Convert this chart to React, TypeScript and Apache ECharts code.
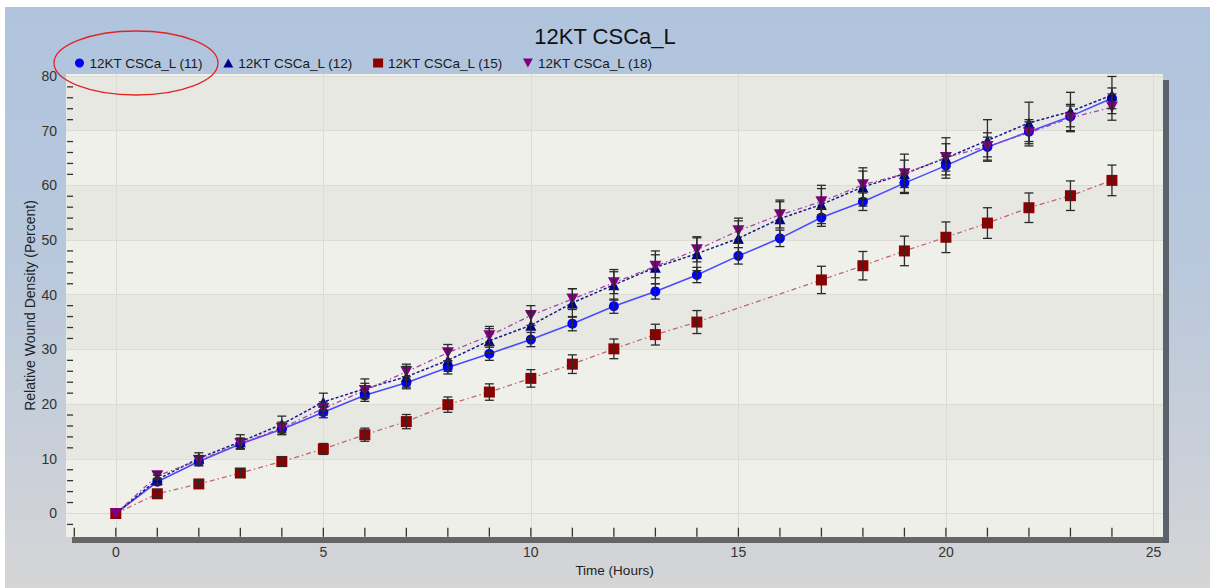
import React, { useEffect, useRef } from "react";
import * as echarts from "echarts";

const hours = [0, 1, 2, 3, 4, 5, 6, 7, 8, 9, 10, 11, 12, 13, 14, 15, 16, 17, 18, 19, 20, 21, 22, 23, 24];

const names = ["12KT CSCa_L (11)", "12KT CSCa_L (12)", "12KT CSCa_L (15)", "12KT CSCa_L (18)"];

const s11 = [0, 5.8, 9.5, 12.7, 15.4, 18.5, 21.6, 23.9, 26.7, 29.2, 31.8, 34.7, 37.9, 40.6, 43.6, 47.1, 50.3, 54.1, 57.0, 60.4, 63.6, 67.0, 69.8, 72.6, 75.9];
const s12 = [0, 6.2, 10.1, 13.1, 16.3, 20.4, 22.8, 25.0, 28.0, 31.6, 34.4, 38.5, 41.8, 45.0, 47.5, 50.3, 53.9, 56.5, 59.7, 62.1, 65.0, 68.2, 71.4, 73.5, 76.5];
const s15 = [0, 3.6, 5.4, 7.4, 9.5, 11.8, 14.4, 16.8, 19.9, 22.2, 24.7, 27.3, 30.1, 32.7, 35.0, null, null, 42.7, 45.3, 48.0, 50.5, 53.1, 55.9, 58.1, 60.9];
const s18 = [0, 6.9, 9.7, 12.8, 15.6, 19.2, 22.5, 25.9, 29.4, 32.5, 36.2, 39.2, 42.2, 45.2, 48.2, 51.7, 54.6, 57.0, 60.1, 62.1, 65.1, 67.1, 69.6, 72.3, 74.3];

const e11 = [0, 0.6, 0.8, 0.9, 1.0, 1.0, 1.1, 1.1, 1.2, 1.2, 1.3, 1.3, 1.3, 1.4, 1.4, 1.5, 1.5, 1.6, 1.6, 1.7, 1.7, 1.8, 1.8, 1.9, 1.9];
const e12 = [0, 0.8, 1.0, 1.3, 1.5, 1.6, 1.8, 1.9, 2.0, 2.2, 2.4, 2.6, 2.8, 3.0, 3.1, 3.2, 3.4, 3.5, 3.5, 3.6, 3.7, 3.8, 3.8, 3.5, 3.4];
const e15 = [0, 0.5, 0.6, 0.8, 0.9, 1.0, 1.2, 1.3, 1.4, 1.5, 1.6, 1.7, 1.8, 1.9, 2.1, null, null, 2.5, 2.6, 2.7, 2.8, 2.8, 2.7, 2.7, 2.8];
const e18 = [0, 0.7, 0.9, 1.0, 1.1, 1.2, 1.3, 1.4, 1.5, 1.7, 1.8, 1.9, 2.0, 2.1, 2.2, 2.3, 2.4, 2.4, 2.5, 2.5, 2.5, 2.5, 2.4, 2.5, 2.4];

const xLabels = [0, 5, 10, 15, 20, 25];
const xTicks = [-1, 0, 1, 2, 3, 4, 5, 6, 7, 8, 9, 10, 11, 12, 13, 14, 15, 16, 17, 18, 19, 20, 21, 22, 23, 24];
const yLabels = [0, 10, 20, 30, 40, 50, 60, 70, 80];
const yTicks = [-2, 2, 4, 6, 8, 12, 14, 16, 18, 22, 24, 26, 28, 32, 34, 36, 38, 42, 44, 46, 48, 52, 54, 56, 58, 62, 64, 66, 68, 72, 74, 76, 78];

const FONT = "'Liberation Sans', Arial, sans-serif";
const DOWN_TRI = "path://M0,0 L10,0 L5,9 Z";
const X_MIN = -1.2;
const X_MAX = 25.23;
const Y_MIN = -4.3;
const Y_MAX = 80.35;

function pairs(vals: (number | null)[]) {
  const out: number[][] = [];
  hours.forEach((h, i) => {
    const v = vals[i];
    if (v !== null && v !== undefined) out.push([h, v]);
  });
  return out;
}

function errData(vals: (number | null)[], errs: (number | null)[]) {
  const out: number[][] = [];
  hours.forEach((h, i) => {
    const v = vals[i];
    const e = errs[i];
    if (v !== null && e !== null && e > 0) out.push([h, v - e, v + e]);
  });
  return out;
}

function errSeries(name: string, vals: (number | null)[], errs: (number | null)[]) {
  return {
    type: "custom",
    name,
    z: 5,
    silent: true,
    encode: { x: 0, y: [1, 2] },
    data: errData(vals, errs),
    renderItem: (params: any, api: any) => {
      const x = api.value(0);
      const lo = api.value(1);
      const hi = api.value(2);
      const p1 = api.coord([x, hi]);
      const p2 = api.coord([x, lo]);
      const w = 4.5;
      const style = { stroke: "#2a2a2a", lineWidth: 1.3 };
      return {
        type: "group",
        children: [
          { type: "line", shape: { x1: p1[0], y1: p1[1], x2: p2[0], y2: p2[1] }, style },
          { type: "line", shape: { x1: p1[0] - w, y1: p1[1], x2: p1[0] + w, y2: p1[1] }, style },
          { type: "line", shape: { x1: p2[0] - w, y1: p2[1], x2: p2[0] + w, y2: p2[1] }, style },
        ],
      };
    },
  };
}

// minor tick marks placed through the axes' own scales; each mark runs from (x+ax, y+ay) to (x+bx, y+by)
function tickSeries(name: string, data: number[][], ax: number, ay: number, bx: number, by: number) {
  return {
    type: "custom",
    name,
    z: 6,
    silent: true,
    clip: false,
    encode: { x: 0, y: 1 },
    data,
    renderItem: (params: any, api: any) => {
      const p = api.coord([api.value(0), api.value(1)]);
      return {
        type: "group",
        children: [
          {
            type: "line",
            shape: { x1: p[0] + ax, y1: p[1] + ay, x2: p[0] + bx, y2: p[1] + by },
            style: { stroke: "#333333", lineWidth: 1.3 },
          },
        ],
      };
    },
  };
}

export default function App() {
  const ref = useRef<HTMLDivElement>(null);

  useEffect(() => {
    document.body.style.margin = "0";
    const chart = echarts.init(ref.current!, null, { renderer: "svg" });
    chart.setOption({
      animation: false,
      textStyle: { fontFamily: FONT },
      title: {
        text: "12KT CSCa_L",
        left: "center",
        top: 25,
        padding: [0, 0, 0, 18],
        textStyle: { fontSize: 22, fontWeight: "normal", color: "#111", fontFamily: FONT },
      },
      legend: {
        left: 70,
        top: 51,
        itemWidth: 10,
        itemHeight: 9,
        itemGap: 20,
        textStyle: { fontSize: 13.5, color: "#1a1a1a", fontFamily: FONT },
        data: [
          { name: names[0], icon: "circle" },
          { name: names[1], icon: "triangle" },
          { name: names[2], icon: "rect" },
          { name: names[3], icon: DOWN_TRI },
        ],
      },
      grid: {
        left: 66,
        top: 74,
        right: 47,
        bottom: 51,
        show: true,
        z: -2,
        backgroundColor: "#efefea",
        borderWidth: 0,
      },
      xAxis: [
        {
          type: "value",
          min: X_MIN,
          max: X_MAX,
          position: "bottom",
          axisLine: { show: false, onZero: false },
          axisTick: { show: false },
          axisLabel: {
            customValues: xLabels,
            formatter: (v: number) => (v % 5 === 0 && v >= 0 ? String(v) : ""),
            fontSize: 14,
            color: "#333",
            margin: 8,
            fontFamily: FONT,
          },
          splitLine: { show: false },
          name: "Time (Hours)",
          nameLocation: "middle",
          nameGap: 26,
          nameTextStyle: { fontSize: 13.5, color: "#222", fontFamily: FONT },
        },
        {
          type: "value",
          min: X_MIN,
          max: X_MAX,
          position: "top",
          z: -1,
          splitNumber: 5,
          axisLine: { show: false, onZero: false },
          axisTick: { show: false, customValues: xLabels },
          axisLabel: { show: false },
          splitLine: { show: true, lineStyle: { color: "#dcdcd5", width: 1 } },
        },
      ],
      yAxis: [
        {
          type: "value",
          min: Y_MIN,
          max: Y_MAX,
          position: "left",
          axisLine: { show: false, onZero: false },
          axisTick: { show: false },
          axisLabel: {
            customValues: yLabels,
            formatter: (v: number) => (v % 10 === 0 && v >= 0 ? String(v) : ""),
            fontSize: 14,
            color: "#333",
            margin: 9,
            fontFamily: FONT,
          },
          splitLine: { show: false },
          name: "Relative Wound Density (Percent)",
          nameLocation: "middle",
          nameGap: 29,
          nameMoveOverlap: false,
          nameTextStyle: { fontSize: 14, color: "#222", fontFamily: FONT },
        },
        {
          type: "value",
          min: Y_MIN,
          max: Y_MAX,
          position: "right",
          z: -1,
          splitNumber: 8,
          axisLine: { show: false, onZero: false },
          axisTick: { show: false, customValues: yLabels },
          axisLabel: { show: false },
          splitLine: { show: true, lineStyle: { color: "#dcdcd5", width: 1 } },
          splitArea: { show: true, areaStyle: { color: ["#f0f0eb", "#e8e8e3"] } },
        },
      ],
      series: [
        {
          type: "line",
          name: names[0],
          data: pairs(s11),
          symbol: "circle",
          symbolSize: 10,
          itemStyle: { color: "#0000ff" },
          lineStyle: { color: "#4a4aff", width: 1.6, type: "solid" },
          z: 3,
        },
        {
          type: "line",
          name: names[1],
          data: pairs(s12),
          symbol: "triangle",
          symbolSize: 11,
          itemStyle: { color: "#00008b" },
          lineStyle: { color: "#1a1a90", width: 1.5, type: [3, 2] },
          z: 3,
        },
        {
          type: "line",
          name: names[2],
          data: pairs(s15),
          connectNulls: true,
          symbol: "rect",
          symbolSize: 11,
          itemStyle: { color: "#8b0000" },
          lineStyle: { color: "#c06478", width: 1.3, type: [5, 3, 1.5, 3] },
          z: 3,
        },
        {
          type: "line",
          name: names[3],
          data: pairs(s18),
          symbol: DOWN_TRI,
          symbolSize: [12, 11],
          itemStyle: { color: "#800080" },
          lineStyle: { color: "#a048a8", width: 1.3, type: [5, 3, 1.5, 3] },
          z: 3,
        },
        errSeries("err11", s11, e11),
        errSeries("err12", s12, e12),
        errSeries("err15", s15, e15),
        errSeries("err18", s18, e18),
        tickSeries("xticks", xTicks.map((h) => [h, -3.6]), 0, 3.5, 0, -5.5),
        tickSeries("yticks", yTicks.map((v) => [-1.15, v]), -1, 0, 5, 0),
      ],
      graphic: [
        { type: "rect", shape: { x: 72, y: 537, width: 1097, height: 6 }, style: { fill: "#666666" }, z: 10 },
        { type: "rect", shape: { x: 1163, y: 80, width: 6, height: 463 }, style: { fill: "#5c626b" }, z: 10 },
        {
          type: "ellipse",
          shape: { cx: 136, cy: 63, rx: 82, ry: 32 },
          style: { fill: "none", stroke: "#e02424", lineWidth: 1.3 },
          z: 100,
        },
      ],
    });
    return () => chart.dispose();
  }, []);

  return (
    <div style={{ position: "absolute", left: 0, top: 0, width: 1210, height: 588, background: "#ffffff" }}>
      <div
        style={{
          position: "absolute",
          left: 5,
          top: 7,
          width: 1205,
          height: 581,
          background: "linear-gradient(to bottom, #b0c4de 0%, #b9c8dc 45%, #d5d5d6 100%)",
        }}
      />
      <div ref={ref} style={{ position: "absolute", left: 0, top: 0, width: 1210, height: 588 }} />
    </div>
  );
}
